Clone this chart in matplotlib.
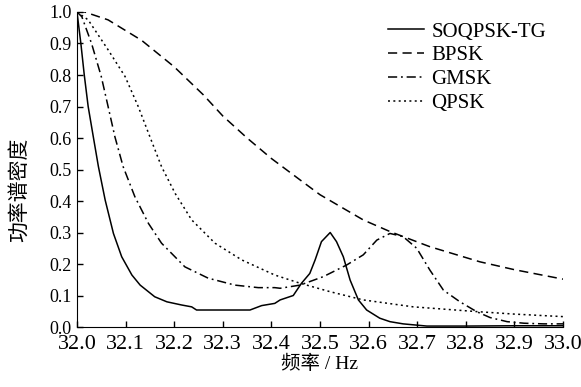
import numpy as np
import matplotlib
matplotlib.use("Agg")
import matplotlib.pyplot as plt

plt.rcParams['font.family'] = ['Liberation Serif', 'Noto Sans CJK SC']
plt.rcParams['axes.unicode_minus'] = False

# SOQPSK-TG
soq_f = [32.0, 32.008, 32.015, 32.023, 32.034, 32.044, 32.058, 32.075, 32.092, 32.113,
         32.13, 32.16, 32.185, 32.215, 32.236, 32.246, 32.30, 32.356, 32.38, 32.407,
         32.418, 32.445, 32.462, 32.479, 32.49, 32.503, 32.521, 32.534, 32.548, 32.562,
         32.579, 32.596, 32.623, 32.644, 32.671, 32.699, 32.72, 32.8, 32.9, 33.0]
soq_p = [1.0, 0.90, 0.80, 0.70, 0.60, 0.51, 0.403, 0.297, 0.223, 0.165,
         0.133, 0.096, 0.08, 0.07, 0.064, 0.054, 0.054, 0.054, 0.068, 0.075,
         0.086, 0.10, 0.139, 0.17, 0.213, 0.271, 0.30, 0.271, 0.223, 0.149,
         0.086, 0.054, 0.028, 0.017, 0.01, 0.006, 0.003, 0.003, 0.004, 0.004]

# BPSK
bpsk_f = [32.0, 32.016, 32.064, 32.133, 32.2, 32.26, 32.3, 32.35, 32.4, 32.459,
          32.5, 32.55, 32.589, 32.644, 32.726, 32.829, 32.9, 33.0]
bpsk_p = [1.0, 1.0, 0.975, 0.91, 0.826, 0.737, 0.67, 0.60, 0.535, 0.467,
          0.42, 0.375, 0.34, 0.303, 0.255, 0.207, 0.182, 0.152]

# GMSK
gmsk_f = [32.0, 32.01, 32.03, 32.05, 32.064, 32.078, 32.095, 32.119, 32.147, 32.174,
          32.222, 32.27, 32.325, 32.373, 32.407, 32.418, 32.459, 32.507, 32.555, 32.589,
          32.617, 32.644, 32.671, 32.699, 32.726, 32.754, 32.788, 32.822, 32.85, 32.885,
          32.92, 32.96, 33.0]
gmsk_p = [1.0, 0.985, 0.90, 0.795, 0.70, 0.604, 0.509, 0.414, 0.329, 0.266,
          0.191, 0.155, 0.133, 0.125, 0.125, 0.123, 0.133, 0.16, 0.197, 0.229,
          0.276, 0.297, 0.287, 0.25, 0.181, 0.117, 0.08, 0.049, 0.03, 0.017,
          0.012, 0.01, 0.01]

# QPSK
qpsk_f = [32.0, 32.023, 32.064, 32.099, 32.126, 32.15, 32.174, 32.202, 32.236, 32.284,
          32.339, 32.407, 32.459, 32.521, 32.589, 32.692, 32.822, 32.9, 33.0]
qpsk_p = [1.0, 0.975, 0.88, 0.795, 0.70, 0.604, 0.509, 0.424, 0.34, 0.266,
          0.213, 0.165, 0.139, 0.112, 0.086, 0.064, 0.049, 0.041, 0.033]

xticks = np.round(np.arange(32.0, 33.01, 0.1), 1)
yticks = np.round(np.arange(0.0, 1.01, 0.1), 1)

fig = plt.figure(figsize=(5.81, 3.87), dpi=100)
ax = fig.add_axes([0.1325, 0.155, 0.8365, 0.814])

lw = 1.1
ax.plot(soq_f, soq_p, color='black', lw=lw, ls='-', label='SOQPSK-TG')
ax.plot(bpsk_f, bpsk_p, color='black', lw=lw, ls=(0, (6, 3.5)), label='BPSK')
ax.plot(gmsk_f, gmsk_p, color='black', lw=lw, ls=(0, (6, 2.5, 1.2, 2.5)), label='GMSK')
ax.plot(qpsk_f, qpsk_p, color='black', lw=lw, ls=(0, (1.3, 2.2)), label='QPSK')

ax.set_xlim(32.0, 33.0)
ax.set_ylim(0.0, 1.0)
ax.set_xticks(xticks)
ax.set_xticklabels([f'{v:.1f}' for v in xticks], fontsize=16)
ax.set_yticks(yticks)
ax.set_yticklabels([f'{v:.1f}' for v in yticks], fontsize=13)
ax.tick_params(direction='in', length=4, width=1)
ax.tick_params(axis='x', pad=6)
ax.tick_params(axis='y', pad=4)
ax.spines['top'].set_visible(False)
ax.spines['right'].set_visible(False)

ax.set_xlabel('频率 / Hz', fontsize=14, labelpad=0)
ax.set_ylabel('功率谱密度', fontsize=15)
ax.yaxis.set_label_coords(-0.097, 0.435)

ax.legend(loc='upper right', bbox_to_anchor=(0.985, 0.998), frameon=False,
          fontsize=15, handlelength=1.75, handletextpad=0.35, labelspacing=0.2,
          borderaxespad=0.05)

fig.savefig('out.png', dpi=100)
